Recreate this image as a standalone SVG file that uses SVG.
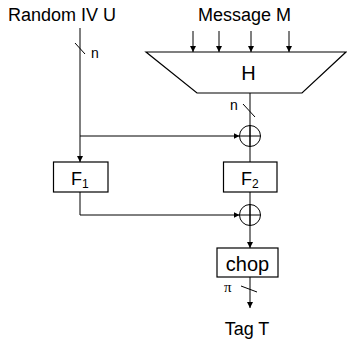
<svg xmlns="http://www.w3.org/2000/svg" width="347" height="339" viewBox="0 0 347 339">
<defs>
<marker id="ah" viewBox="0 0 10 10" refX="10" refY="5" markerWidth="6" markerHeight="6" markerUnits="userSpaceOnUse" orient="auto">
<path d="M0,0 L10,5 L0,10 z" fill="#000"/>
</marker>
<style>
.t{font-family:"Liberation Sans",Arial,sans-serif;fill:#000}
.ln{stroke:#000;stroke-width:1;fill:none}
.bx{stroke:#000;stroke-width:1.2;fill:#fff}
</style>
</defs>
<rect width="347" height="339" fill="#fff"/>
<text class="t" x="8" y="21" font-size="18">Random IV U</text>
<text class="t" x="244.5" y="21" font-size="18" text-anchor="middle">Message M</text>
<g id="connectors">
<line class="ln" x1="80" y1="28" x2="80" y2="162" marker-end="url(#ah)"/>
<line class="ln" x1="80" y1="136" x2="239.5" y2="136" marker-end="url(#ah)"/>
<line class="ln" x1="80" y1="192" x2="80" y2="215"/>
<line class="ln" x1="80" y1="215" x2="239.5" y2="215" marker-end="url(#ah)"/>
<line class="ln" x1="193" y1="31" x2="193" y2="52" marker-end="url(#ah)"/>
<line class="ln" x1="219" y1="31" x2="219" y2="52" marker-end="url(#ah)"/>
<line class="ln" x1="251" y1="31" x2="251" y2="52" marker-end="url(#ah)"/>
<line class="ln" x1="289" y1="31" x2="289" y2="52" marker-end="url(#ah)"/>
<line class="ln" x1="250" y1="93" x2="250" y2="162"/>
<line class="ln" x1="250" y1="192" x2="250" y2="248" marker-end="url(#ah)"/>
<line class="ln" x1="250" y1="277" x2="250" y2="308" marker-end="url(#ah)"/>
<line class="ln" x1="75" y1="43" x2="85" y2="54"/>
<line class="ln" x1="243" y1="104" x2="255" y2="117"/>
<line class="ln" x1="241" y1="286" x2="257" y2="292"/>
</g>
<text class="t" x="91" y="58" font-size="14">n</text>
<text class="t" x="230" y="110" font-size="14">n</text>
<text x="224" y="292" font-size="15" font-family="'Liberation Serif','Times New Roman',serif">π</text>
<g id="H">
<polygon class="bx" points="146,52 346,52 302,93 197,93"/>
<text class="t" x="248.5" y="80" font-size="20" text-anchor="middle">H</text>
</g>
<g id="xor1">
<circle class="ln" cx="250" cy="136" r="10.5" fill="#fff"/>
<line class="ln" x1="239.5" y1="136" x2="260.5" y2="136"/>
<line class="ln" x1="250" y1="125.5" x2="250" y2="146.5"/>
</g>
<g id="xor2">
<circle class="ln" cx="250" cy="215" r="10.5" fill="#fff"/>
<line class="ln" x1="239.5" y1="215" x2="260.5" y2="215"/>
<line class="ln" x1="250" y1="204.5" x2="250" y2="225.5"/>
</g>
<g id="F1">
<rect class="bx" x="53.5" y="162" width="54.5" height="30"/>
<text class="t" x="71" y="185" font-size="18">F<tspan font-size="12" dy="3">1</tspan></text>
</g>
<g id="F2">
<rect class="bx" x="223.5" y="162" width="53.5" height="30"/>
<text class="t" x="241" y="185" font-size="18">F<tspan font-size="12" dy="3">2</tspan></text>
</g>
<g id="chop">
<rect class="bx" x="217" y="248" width="61" height="29"/>
<text class="t" x="247.5" y="270.5" font-size="20" text-anchor="middle">chop</text>
</g>
<text class="t" x="247" y="335" font-size="18" text-anchor="middle">Tag T</text>
</svg>
